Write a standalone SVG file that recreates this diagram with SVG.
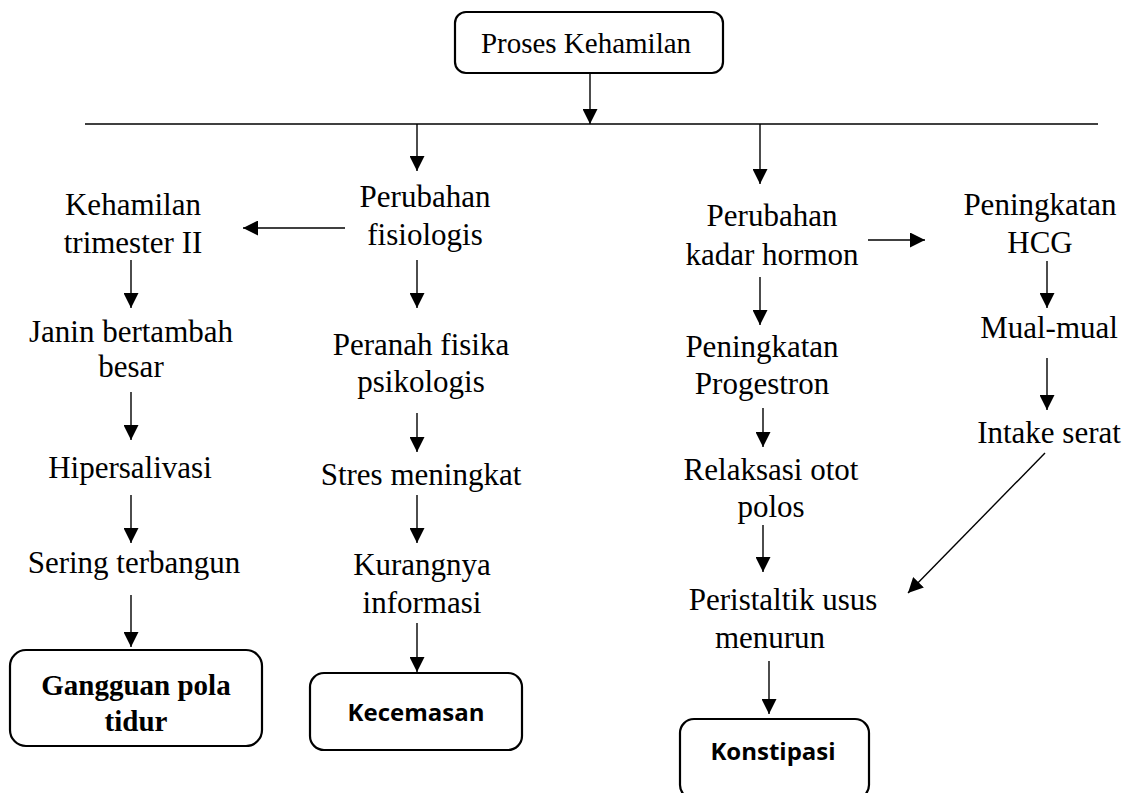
<svg xmlns="http://www.w3.org/2000/svg" width="1141" height="793" viewBox="0 0 1141 793">
<style>
.t{font-family:"Liberation Serif","Times New Roman",serif;font-size:31px;fill:#000;text-anchor:middle}
.tb{font-family:"Liberation Serif","Times New Roman",serif;font-size:29px;font-weight:bold;fill:#000;text-anchor:middle}
.sb{font-family:"Open Sans","Liberation Sans",sans-serif;font-size:24px;font-weight:bold;fill:#000;text-anchor:middle}
.box{fill:#fff;stroke:#000;stroke-width:2.2}
.c line{stroke:#000;stroke-width:1.4;marker-end:url(#ah)}
</style>
<defs>
<marker id="ah" viewBox="0 0 15 15" refX="15" refY="7.5" markerWidth="15" markerHeight="15" markerUnits="userSpaceOnUse" orient="auto">
<path d="M0,0 L15,7.5 L0,15 z" fill="#000"/>
</marker>
</defs>
<rect width="1141" height="793" fill="#fff"/>
<g class="c" id="connectors">
<line x1="590" y1="73" x2="590" y2="124"/>
<line x1="85" y1="124" x2="1098" y2="124" style="marker-end:none"/>
<line x1="417" y1="124" x2="417" y2="171"/>
<line x1="760" y1="124" x2="760" y2="184"/>
<line x1="345" y1="228" x2="243" y2="228"/>
<line x1="868" y1="240" x2="925" y2="240"/>
<line x1="131" y1="260" x2="131" y2="308"/>
<line x1="131" y1="392" x2="131" y2="440"/>
<line x1="131" y1="495" x2="131" y2="543"/>
<line x1="131" y1="595" x2="131" y2="647"/>
<line x1="417" y1="260" x2="417" y2="308"/>
<line x1="417" y1="413" x2="417" y2="452"/>
<line x1="417" y1="495" x2="417" y2="543"/>
<line x1="417" y1="623" x2="417" y2="672"/>
<line x1="760" y1="277" x2="760" y2="325"/>
<line x1="763" y1="408" x2="763" y2="447"/>
<line x1="763" y1="525" x2="763" y2="572"/>
<line x1="769" y1="661" x2="769" y2="714"/>
<line x1="1047" y1="261" x2="1047" y2="308"/>
<line x1="1047" y1="358" x2="1047" y2="410"/>
<line x1="1045" y1="453" x2="908" y2="593"/>
</g>
<g id="proses"><rect class="box" x="455" y="12" width="268" height="61" rx="11"/><text class="t" style="font-size:29px" x="586" y="53">Proses Kehamilan</text></g>
<g id="kehamilan-trimester"><text class="t" x="133" y="215">Kehamilan</text><text class="t" x="133" y="253">trimester II</text></g>
<g id="janin"><text class="t" x="131" y="342">Janin bertambah</text><text class="t" x="131" y="377">besar</text></g>
<g id="hipersalivasi"><text class="t" x="130" y="478">Hipersalivasi</text></g>
<g id="sering"><text class="t" x="134" y="573">Sering terbangun</text></g>
<g id="gangguan"><rect class="box" x="10" y="650" width="252" height="96" rx="16"/><text class="tb" x="136" y="695">Gangguan pola</text><text class="tb" x="136" y="731">tidur</text></g>
<g id="fisiologis"><text class="t" x="425" y="207">Perubahan</text><text class="t" x="425" y="245">fisiologis</text></g>
<g id="peranah"><text class="t" x="421" y="355">Peranah fisika</text><text class="t" x="421" y="392">psikologis</text></g>
<g id="stres"><text class="t" x="421" y="485">Stres meningkat</text></g>
<g id="kurangnya"><text class="t" x="422" y="575">Kurangnya</text><text class="t" x="422" y="613">informasi</text></g>
<g id="kecemasan"><rect class="box" x="310" y="673" width="212" height="77" rx="14"/><text class="sb" x="416" y="721">Kecemasan</text></g>
<g id="hormon"><text class="t" x="772" y="226">Perubahan</text><text class="t" x="772" y="265">kadar hormon</text></g>
<g id="progestron"><text class="t" x="762" y="357">Peningkatan</text><text class="t" x="762" y="394">Progestron</text></g>
<g id="relaksasi"><text class="t" x="771" y="480">Relaksasi otot</text><text class="t" x="771" y="517">polos</text></g>
<g id="peristaltik"><text class="t" x="783" y="610">Peristaltik usus</text><text class="t" x="770" y="648">menurun</text></g>
<g id="konstipasi"><rect class="box" x="680" y="719" width="189" height="80" rx="14"/><text class="sb" x="773" y="760">Konstipasi</text></g>
<g id="hcg"><text class="t" x="1040" y="215">Peningkatan</text><text class="t" x="1040" y="253">HCG</text></g>
<g id="mual"><text class="t" x="1049" y="338">Mual-mual</text></g>
<g id="intake"><text class="t" x="1049" y="443">Intake serat</text></g>
</svg>
